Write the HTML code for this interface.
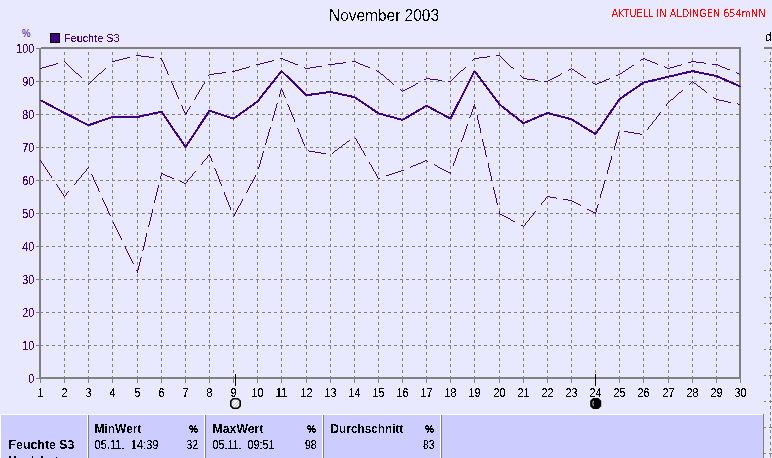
<!DOCTYPE html>
<html><head><meta charset="utf-8"><title>Feuchte S3 - November 2003</title>
<style>html,body{margin:0;padding:0;background:#E8E8FF;width:772px;height:458px;overflow:hidden}text{white-space:pre}</style>
</head><body>
<svg width="772" height="458" viewBox="0 0 772 458" style="display:block"><defs><filter id="al" filterUnits="userSpaceOnUse" x="0" y="0" width="772" height="458"><feComponentTransfer><feFuncA type="discrete" tableValues="0 1"/></feComponentTransfer></filter><filter id="al6" filterUnits="userSpaceOnUse" x="0" y="0" width="772" height="458"><feComponentTransfer><feFuncA type="discrete" tableValues="0 0 0 0 0 0 0 0 0 0 0 1 1 1 1 1 1 1 1 1"/></feComponentTransfer></filter><filter id="al3" filterUnits="userSpaceOnUse" x="0" y="0" width="772" height="458"><feComponentTransfer><feFuncA type="discrete" tableValues="0 0 0 0 0 0 0 1 1 1 1 1 1 1 1 1 1 1 1 1"/></feComponentTransfer></filter><filter id="al4" filterUnits="userSpaceOnUse" x="0" y="0" width="772" height="458"><feComponentTransfer><feFuncA type="discrete" tableValues="0 0 1 1 1"/></feComponentTransfer></filter></defs>
<rect x="0" y="0" width="772" height="458" fill="#E8E8FF"/>
<g stroke="#808080" stroke-width="1" stroke-dasharray="3 3" shape-rendering="crispEdges"><line x1="40" y1="345.5" x2="739" y2="345.5"/><line x1="40" y1="312.5" x2="739" y2="312.5"/><line x1="40" y1="279.5" x2="739" y2="279.5"/><line x1="40" y1="246.5" x2="739" y2="246.5"/><line x1="40" y1="213.5" x2="739" y2="213.5"/><line x1="40" y1="180.5" x2="739" y2="180.5"/><line x1="40" y1="147.5" x2="739" y2="147.5"/><line x1="40" y1="114.5" x2="739" y2="114.5"/><line x1="40" y1="81.5" x2="739" y2="81.5"/><line x1="64.5" y1="52" x2="64.5" y2="377"/><line x1="88.5" y1="52" x2="88.5" y2="377"/><line x1="112.5" y1="52" x2="112.5" y2="377"/><line x1="137.5" y1="52" x2="137.5" y2="377"/><line x1="161.5" y1="52" x2="161.5" y2="377"/><line x1="185.5" y1="52" x2="185.5" y2="377"/><line x1="209.5" y1="52" x2="209.5" y2="377"/><line x1="233.5" y1="52" x2="233.5" y2="377"/><line x1="257.5" y1="52" x2="257.5" y2="377"/><line x1="281.5" y1="52" x2="281.5" y2="377"/><line x1="306.5" y1="52" x2="306.5" y2="377"/><line x1="330.5" y1="52" x2="330.5" y2="377"/><line x1="354.5" y1="52" x2="354.5" y2="377"/><line x1="378.5" y1="52" x2="378.5" y2="377"/><line x1="402.5" y1="52" x2="402.5" y2="377"/><line x1="426.5" y1="52" x2="426.5" y2="377"/><line x1="450.5" y1="52" x2="450.5" y2="377"/><line x1="474.5" y1="52" x2="474.5" y2="377"/><line x1="499.5" y1="52" x2="499.5" y2="377"/><line x1="523.5" y1="52" x2="523.5" y2="377"/><line x1="547.5" y1="52" x2="547.5" y2="377"/><line x1="571.5" y1="52" x2="571.5" y2="377"/><line x1="595.5" y1="52" x2="595.5" y2="377"/><line x1="619.5" y1="52" x2="619.5" y2="377"/><line x1="643.5" y1="52" x2="643.5" y2="377"/><line x1="668.5" y1="52" x2="668.5" y2="377"/><line x1="692.5" y1="52" x2="692.5" y2="377"/><line x1="716.5" y1="52" x2="716.5" y2="377"/></g>
<g fill="#808080" shape-rendering="crispEdges"><rect x="41" y="47" width="700" height="1"/><rect x="39" y="48" width="702" height="1"/><rect x="39" y="377" width="702" height="2"/><rect x="39" y="48" width="2" height="331"/><rect x="739" y="47" width="2" height="332"/><rect x="36" y="378" width="3" height="1"/><rect x="36" y="345" width="3" height="1"/><rect x="36" y="312" width="3" height="1"/><rect x="36" y="279" width="3" height="1"/><rect x="36" y="246" width="3" height="1"/><rect x="36" y="213" width="3" height="1"/><rect x="36" y="180" width="3" height="1"/><rect x="36" y="147" width="3" height="1"/><rect x="36" y="114" width="3" height="1"/><rect x="36" y="81" width="3" height="1"/><rect x="36" y="48" width="3" height="1"/><rect x="40" y="379" width="1" height="4"/><rect x="64" y="379" width="1" height="4"/><rect x="88" y="379" width="1" height="4"/><rect x="112" y="379" width="1" height="4"/><rect x="137" y="379" width="1" height="4"/><rect x="161" y="379" width="1" height="4"/><rect x="185" y="379" width="1" height="4"/><rect x="209" y="379" width="1" height="4"/><rect x="233" y="379" width="1" height="4"/><rect x="257" y="379" width="1" height="4"/><rect x="281" y="379" width="1" height="4"/><rect x="306" y="379" width="1" height="4"/><rect x="330" y="379" width="1" height="4"/><rect x="354" y="379" width="1" height="4"/><rect x="378" y="379" width="1" height="4"/><rect x="402" y="379" width="1" height="4"/><rect x="426" y="379" width="1" height="4"/><rect x="450" y="379" width="1" height="4"/><rect x="474" y="379" width="1" height="4"/><rect x="499" y="379" width="1" height="4"/><rect x="523" y="379" width="1" height="4"/><rect x="547" y="379" width="1" height="4"/><rect x="571" y="379" width="1" height="4"/><rect x="595" y="379" width="1" height="4"/><rect x="619" y="379" width="1" height="4"/><rect x="643" y="379" width="1" height="4"/><rect x="668" y="379" width="1" height="4"/><rect x="692" y="379" width="1" height="4"/><rect x="716" y="379" width="1" height="4"/><rect x="740" y="379" width="1" height="4"/></g>
<g fill="#400080" font-family="Liberation Sans, Arial, sans-serif" font-size="12px" filter="url(#al4)"><text x="34.3" y="382.5" text-anchor="end" textLength="6" lengthAdjust="spacingAndGlyphs">0</text><text x="34.3" y="349.5" text-anchor="end" textLength="12" lengthAdjust="spacingAndGlyphs">10</text><text x="34.3" y="316.5" text-anchor="end" textLength="12" lengthAdjust="spacingAndGlyphs">20</text><text x="34.3" y="283.5" text-anchor="end" textLength="12" lengthAdjust="spacingAndGlyphs">30</text><text x="34.3" y="250.5" text-anchor="end" textLength="12" lengthAdjust="spacingAndGlyphs">40</text><text x="34.3" y="217.5" text-anchor="end" textLength="12" lengthAdjust="spacingAndGlyphs">50</text><text x="34.3" y="184.5" text-anchor="end" textLength="12" lengthAdjust="spacingAndGlyphs">60</text><text x="34.3" y="151.5" text-anchor="end" textLength="12" lengthAdjust="spacingAndGlyphs">70</text><text x="34.3" y="118.5" text-anchor="end" textLength="12" lengthAdjust="spacingAndGlyphs">80</text><text x="34.3" y="85.5" text-anchor="end" textLength="12" lengthAdjust="spacingAndGlyphs">90</text><text x="34.3" y="52.5" text-anchor="end" textLength="18" lengthAdjust="spacingAndGlyphs">100</text></g>
<g fill="#000" font-family="Liberation Sans, Arial, sans-serif" font-size="12px" filter="url(#al4)"><text x="40.5" y="397" text-anchor="middle" textLength="6" lengthAdjust="spacingAndGlyphs">1</text><text x="64.5" y="397" text-anchor="middle" textLength="6" lengthAdjust="spacingAndGlyphs">2</text><text x="88.5" y="397" text-anchor="middle" textLength="6" lengthAdjust="spacingAndGlyphs">3</text><text x="112.5" y="397" text-anchor="middle" textLength="6" lengthAdjust="spacingAndGlyphs">4</text><text x="137.5" y="397" text-anchor="middle" textLength="6" lengthAdjust="spacingAndGlyphs">5</text><text x="161.5" y="397" text-anchor="middle" textLength="6" lengthAdjust="spacingAndGlyphs">6</text><text x="185.5" y="397" text-anchor="middle" textLength="6" lengthAdjust="spacingAndGlyphs">7</text><text x="209.5" y="397" text-anchor="middle" textLength="6" lengthAdjust="spacingAndGlyphs">8</text><text x="233.5" y="397" text-anchor="middle" textLength="6" lengthAdjust="spacingAndGlyphs">9</text><text x="257.5" y="397" text-anchor="middle" textLength="12" lengthAdjust="spacingAndGlyphs">10</text><text x="281.5" y="397" text-anchor="middle" textLength="12" lengthAdjust="spacingAndGlyphs">11</text><text x="306.5" y="397" text-anchor="middle" textLength="12" lengthAdjust="spacingAndGlyphs">12</text><text x="330.5" y="397" text-anchor="middle" textLength="12" lengthAdjust="spacingAndGlyphs">13</text><text x="354.5" y="397" text-anchor="middle" textLength="12" lengthAdjust="spacingAndGlyphs">14</text><text x="378.5" y="397" text-anchor="middle" textLength="12" lengthAdjust="spacingAndGlyphs">15</text><text x="402.5" y="397" text-anchor="middle" textLength="12" lengthAdjust="spacingAndGlyphs">16</text><text x="426.5" y="397" text-anchor="middle" textLength="12" lengthAdjust="spacingAndGlyphs">17</text><text x="450.5" y="397" text-anchor="middle" textLength="12" lengthAdjust="spacingAndGlyphs">18</text><text x="474.5" y="397" text-anchor="middle" textLength="12" lengthAdjust="spacingAndGlyphs">19</text><text x="499.5" y="397" text-anchor="middle" textLength="12" lengthAdjust="spacingAndGlyphs">20</text><text x="523.5" y="397" text-anchor="middle" textLength="12" lengthAdjust="spacingAndGlyphs">21</text><text x="547.5" y="397" text-anchor="middle" textLength="12" lengthAdjust="spacingAndGlyphs">22</text><text x="571.5" y="397" text-anchor="middle" textLength="12" lengthAdjust="spacingAndGlyphs">23</text><text x="595.5" y="397" text-anchor="middle" textLength="12" lengthAdjust="spacingAndGlyphs">24</text><text x="619.5" y="397" text-anchor="middle" textLength="12" lengthAdjust="spacingAndGlyphs">25</text><text x="643.5" y="397" text-anchor="middle" textLength="12" lengthAdjust="spacingAndGlyphs">26</text><text x="668.5" y="397" text-anchor="middle" textLength="12" lengthAdjust="spacingAndGlyphs">27</text><text x="692.5" y="397" text-anchor="middle" textLength="12" lengthAdjust="spacingAndGlyphs">28</text><text x="716.5" y="397" text-anchor="middle" textLength="12" lengthAdjust="spacingAndGlyphs">29</text><text x="740.5" y="397" text-anchor="middle" textLength="12" lengthAdjust="spacingAndGlyphs">30</text></g>
<text x="22" y="36.5" fill="#400080" font-family="Liberation Sans, Arial, sans-serif" font-size="11px" textLength="8.5" lengthAdjust="spacingAndGlyphs">%</text>
<rect x="50.5" y="33.5" width="9" height="9" fill="#400080" stroke="#000" stroke-width="1" shape-rendering="crispEdges"/>
<text x="64" y="41.5" fill="#400080" font-family="Liberation Sans, Arial, sans-serif" font-size="11px" textLength="55.5" filter="url(#al4)" lengthAdjust="spacingAndGlyphs">Feuchte S3</text>
<text x="329" y="21" fill="#000" font-family="Liberation Sans, Arial, sans-serif" font-size="16px" textLength="110" filter="url(#al6)" lengthAdjust="spacingAndGlyphs">November 2003</text>
<text x="611.5" y="17" fill="#FF0000" font-family="DejaVu Sans Condensed, DejaVu Sans, sans-serif" font-stretch="condensed" font-size="11px" textLength="154" filter="url(#al)" lengthAdjust="spacingAndGlyphs">AKTUELL IN ALDINGEN 654mNN</text>
<path fill="none" stroke="#400080" stroke-width="1" shape-rendering="crispEdges" d="M136 55.5h5M496 55.5h4M141 56.5h8M487 56.5h3M500 56.5h1M127 57.5h3M149 57.5h5M479 57.5h8M501 57.5h1M123 58.5h4M160 58.5h2M280 58.5h3M474 58.5h5M502 58.5h1M643 58.5h2M119 59.5h4M161 59.5h1M283 59.5h2M473 59.5h1M503 59.5h1M641 59.5h2M645 59.5h2M115 60.5h4M162 60.5h1M272 60.5h2M285 60.5h3M472 60.5h1M504 60.5h1M640 60.5h1M647 60.5h3M64 61.5h1M112 61.5h3M162 61.5h1M268 61.5h4M288 61.5h2M352 61.5h4M505 61.5h1M650 61.5h2M691 61.5h5M65 62.5h1M163 62.5h1M264 62.5h4M290 62.5h3M343 62.5h3M356 62.5h2M506 62.5h1M652 62.5h3M688 62.5h3M696 62.5h8M56 63.5h2M66 63.5h1M163 63.5h1M260 63.5h4M293 63.5h2M335 63.5h8M358 63.5h2M507 63.5h1M655 63.5h2M704 63.5h2M53 64.5h3M67 64.5h1M164 64.5h1M256 64.5h4M295 64.5h3M328 64.5h7M360 64.5h3M508 64.5h1M657 64.5h1M681 64.5h1M712 64.5h6M49 65.5h4M68 65.5h1M164 65.5h1M363 65.5h2M509 65.5h1M632 65.5h2M677 65.5h4M718 65.5h2M46 66.5h3M69 66.5h1M164 66.5h1M249 66.5h1M316 66.5h6M365 66.5h3M510 66.5h1M631 66.5h1M664 66.5h1M674 66.5h3M720 66.5h2M42 67.5h4M70 67.5h1M165 67.5h1M246 67.5h3M304 67.5h1M310 67.5h6M368 67.5h2M465 67.5h1M511 67.5h2M629 67.5h2M665 67.5h2M670 67.5h4M722 67.5h3M40 68.5h2M71 68.5h1M105 68.5h1M165 68.5h1M242 68.5h4M305 68.5h5M464 68.5h1M513 68.5h1M571 68.5h1M628 68.5h1M667 68.5h3M725 68.5h2M72 69.5h1M104 69.5h1M166 69.5h1M239 69.5h3M463 69.5h1M569 69.5h2M572 69.5h2M626 69.5h2M727 69.5h3M73 70.5h1M103 70.5h1M166 70.5h1M235 70.5h4M376 70.5h1M461 70.5h2M568 70.5h1M574 70.5h1M625 70.5h1M74 71.5h1M102 71.5h1M167 71.5h1M232 71.5h3M377 71.5h2M460 71.5h1M575 71.5h2M623 71.5h2M75 72.5h1M101 72.5h1M167 72.5h1M222 72.5h4M379 72.5h1M459 72.5h1M577 72.5h1M622 72.5h1M736 72.5h1M76 73.5h2M99 73.5h2M167 73.5h1M214 73.5h8M380 73.5h1M458 73.5h1M561 73.5h1M578 73.5h2M620 73.5h2M737 73.5h2M78 74.5h1M98 74.5h1M168 74.5h1M209 74.5h5M381 74.5h2M457 74.5h1M560 74.5h1M580 74.5h1M618 74.5h2M739 74.5h1M79 75.5h1M97 75.5h1M208 75.5h1M383 75.5h1M456 75.5h1M520 75.5h1M558 75.5h2M581 75.5h2M616 75.5h2M80 76.5h1M96 76.5h1M384 76.5h1M455 76.5h1M521 76.5h1M556 76.5h2M583 76.5h1M81 77.5h1M95 77.5h1M385 77.5h1M454 77.5h1M522 77.5h1M554 77.5h2M584 77.5h2M94 78.5h1M386 78.5h1M426 78.5h4M453 78.5h1M523 78.5h4M552 78.5h2M609 78.5h1M93 79.5h1M387 79.5h2M424 79.5h2M430 79.5h8M452 79.5h1M527 79.5h8M550 79.5h2M606 79.5h3M92 80.5h1M389 80.5h1M438 80.5h4M451 80.5h1M535 80.5h3M548 80.5h2M604 80.5h2M91 81.5h1M171 81.5h1M390 81.5h1M448 81.5h3M544 81.5h4M602 81.5h2M90 82.5h1M171 82.5h1M204 82.5h1M391 82.5h1M592 82.5h1M599 82.5h3M89 83.5h1M172 83.5h1M204 83.5h1M392 83.5h1M416 83.5h2M593 83.5h2M597 83.5h2M88 84.5h1M172 84.5h1M203 84.5h1M393 84.5h1M415 84.5h1M595 84.5h2M173 85.5h1M202 85.5h1M413 85.5h2M173 86.5h1M202 86.5h1M411 86.5h2M173 87.5h1M201 87.5h1M409 87.5h2M174 88.5h1M201 88.5h1M407 88.5h2M174 89.5h1M200 89.5h1M400 89.5h1M405 89.5h2M175 90.5h1M199 90.5h1M401 90.5h1M403 90.5h2M175 91.5h1M199 91.5h1M402 91.5h1M176 92.5h1M198 92.5h1M176 93.5h1M198 93.5h1M176 94.5h1M197 94.5h1M177 95.5h1M196 95.5h1M177 96.5h1M196 96.5h1M178 97.5h1M195 97.5h1M178 98.5h1M195 98.5h1M194 99.5h1M181 105.5h1M182 106.5h1M190 106.5h1M182 107.5h1M189 107.5h1M182 108.5h1M189 108.5h1M183 109.5h1M188 109.5h1M183 110.5h1M187 110.5h1M184 111.5h1M187 111.5h1M184 112.5h1M186 112.5h1M185 113.5h2M185 114.5h1"/>
<path fill="none" stroke="#400080" stroke-width="1" shape-rendering="crispEdges" d="M692 81.5h1M691 82.5h1M693 82.5h1M690 83.5h1M694 83.5h2M689 84.5h1M696 84.5h1M697 85.5h1M698 86.5h2M700 87.5h1M281 88.5h1M701 88.5h1M281 89.5h1M702 89.5h2M280 90.5h1M282 90.5h1M682 90.5h1M704 90.5h1M280 91.5h1M282 91.5h1M681 91.5h1M705 91.5h1M280 92.5h1M283 92.5h1M679 92.5h2M706 92.5h1M280 93.5h1M283 93.5h1M678 93.5h1M279 94.5h1M283 94.5h1M677 94.5h1M279 95.5h1M284 95.5h1M676 95.5h1M279 96.5h1M284 96.5h1M675 96.5h1M285 97.5h1M674 97.5h1M713 97.5h1M673 98.5h1M714 98.5h2M671 99.5h2M716 99.5h3M670 100.5h1M719 100.5h5M669 101.5h1M724 101.5h4M668 102.5h1M728 102.5h3M277 103.5h1M667 103.5h1M737 103.5h1M276 104.5h1M287 104.5h1M474 104.5h1M666 104.5h1M738 104.5h2M276 105.5h1M288 105.5h1M474 105.5h1M666 105.5h1M276 106.5h1M288 106.5h1M473 106.5h2M276 107.5h1M289 107.5h1M473 107.5h1M475 107.5h1M275 108.5h1M289 108.5h1M473 108.5h1M475 108.5h1M275 109.5h1M289 109.5h1M472 109.5h1M275 110.5h1M290 110.5h1M472 110.5h1M274 111.5h1M290 111.5h1M472 111.5h1M274 112.5h1M291 112.5h1M471 112.5h1M660 112.5h1M274 113.5h1M291 113.5h1M471 113.5h1M659 113.5h1M274 114.5h1M291 114.5h1M471 114.5h1M659 114.5h1M273 115.5h1M292 115.5h1M470 115.5h1M477 115.5h1M658 115.5h1M273 116.5h1M292 116.5h1M470 116.5h1M477 116.5h1M657 116.5h1M273 117.5h1M293 117.5h1M469 117.5h1M477 117.5h1M656 117.5h1M272 118.5h1M293 118.5h1M477 118.5h1M656 118.5h1M272 119.5h1M294 119.5h1M477 119.5h1M655 119.5h1M272 120.5h1M294 120.5h1M478 120.5h1M654 120.5h1M294 121.5h1M478 121.5h1M653 121.5h1M478 122.5h1M652 122.5h1M478 123.5h1M652 123.5h1M467 124.5h1M479 124.5h1M651 124.5h1M467 125.5h1M479 125.5h1M650 125.5h1M466 126.5h1M479 126.5h1M649 126.5h1M270 127.5h1M466 127.5h1M479 127.5h1M648 127.5h1M270 128.5h1M297 128.5h1M466 128.5h1M480 128.5h1M648 128.5h1M269 129.5h1M298 129.5h1M465 129.5h1M480 129.5h1M647 129.5h1M269 130.5h1M298 130.5h1M465 130.5h1M480 130.5h1M269 131.5h1M298 131.5h1M465 131.5h1M480 131.5h1M624 131.5h4M268 132.5h1M299 132.5h1M464 132.5h1M480 132.5h1M618 132.5h1M628 132.5h6M268 133.5h1M299 133.5h1M464 133.5h1M618 133.5h1M634 133.5h6M268 134.5h1M300 134.5h1M464 134.5h1M618 134.5h1M640 134.5h2M268 135.5h1M300 135.5h1M463 135.5h1M618 135.5h1M267 136.5h1M300 136.5h1M463 136.5h1M617 136.5h1M267 137.5h1M301 137.5h1M463 137.5h1M617 137.5h1M267 138.5h1M301 138.5h1M355 138.5h1M462 138.5h1M617 138.5h1M266 139.5h1M302 139.5h1M356 139.5h1M462 139.5h1M482 139.5h1M616 139.5h1M266 140.5h1M302 140.5h1M349 140.5h1M356 140.5h1M461 140.5h1M482 140.5h1M616 140.5h1M266 141.5h1M302 141.5h1M347 141.5h2M357 141.5h1M461 141.5h1M482 141.5h1M616 141.5h1M266 142.5h1M303 142.5h1M346 142.5h1M357 142.5h1M483 142.5h1M616 142.5h1M265 143.5h1M303 143.5h1M345 143.5h1M358 143.5h1M483 143.5h1M615 143.5h1M265 144.5h1M304 144.5h1M343 144.5h2M359 144.5h1M483 144.5h1M615 144.5h1M304 145.5h1M342 145.5h1M359 145.5h1M483 145.5h1M615 145.5h1M341 146.5h1M360 146.5h1M484 146.5h1M614 146.5h1M339 147.5h2M360 147.5h1M484 147.5h1M614 147.5h1M338 148.5h1M361 148.5h1M459 148.5h1M484 148.5h1M614 148.5h1M337 149.5h1M361 149.5h1M458 149.5h1M484 149.5h1M614 149.5h1M308 150.5h1M335 150.5h2M362 150.5h1M458 150.5h1M485 150.5h1M263 151.5h1M309 151.5h6M334 151.5h1M363 151.5h1M458 151.5h1M485 151.5h1M263 152.5h1M315 152.5h6M333 152.5h1M363 152.5h1M457 152.5h1M485 152.5h1M262 153.5h1M321 153.5h5M332 153.5h1M364 153.5h1M457 153.5h1M485 153.5h1M209 154.5h1M262 154.5h1M364 154.5h1M457 154.5h1M485 154.5h1M208 155.5h2M262 155.5h1M365 155.5h1M456 155.5h1M486 155.5h1M207 156.5h1M210 156.5h1M262 156.5h1M456 156.5h1M486 156.5h1M611 156.5h1M207 157.5h1M210 157.5h1M261 157.5h1M456 157.5h1M611 157.5h1M206 158.5h1M211 158.5h1M261 158.5h1M455 158.5h1M611 158.5h1M205 159.5h1M211 159.5h1M261 159.5h1M455 159.5h1M611 159.5h1M40 160.5h1M204 160.5h1M211 160.5h1M260 160.5h1M425 160.5h2M455 160.5h1M610 160.5h1M41 161.5h1M203 161.5h1M212 161.5h1M260 161.5h1M423 161.5h2M427 161.5h1M454 161.5h1M610 161.5h1M41 162.5h1M202 162.5h1M260 162.5h1M369 162.5h1M421 162.5h2M454 162.5h1M610 162.5h1M42 163.5h1M202 163.5h1M260 163.5h1M369 163.5h1M418 163.5h3M453 163.5h1M488 163.5h1M609 163.5h1M43 164.5h1M201 164.5h1M259 164.5h1M370 164.5h1M416 164.5h2M434 164.5h1M453 164.5h1M488 164.5h1M609 164.5h1M43 165.5h1M259 165.5h1M371 165.5h1M413 165.5h3M435 165.5h2M453 165.5h1M488 165.5h1M609 165.5h1M44 166.5h1M259 166.5h1M371 166.5h1M411 166.5h2M437 166.5h1M488 166.5h1M609 166.5h1M45 167.5h1M88 167.5h1M258 167.5h1M372 167.5h1M410 167.5h1M438 167.5h2M488 167.5h1M608 167.5h1M45 168.5h1M87 168.5h1M214 168.5h1M258 168.5h1M372 168.5h1M440 168.5h2M489 168.5h1M608 168.5h1M46 169.5h1M86 169.5h1M215 169.5h1M373 169.5h1M442 169.5h2M489 169.5h1M608 169.5h1M47 170.5h1M86 170.5h1M215 170.5h1M373 170.5h1M401 170.5h3M444 170.5h2M489 170.5h1M607 170.5h1M47 171.5h1M85 171.5h1M195 171.5h1M216 171.5h1M374 171.5h1M398 171.5h3M446 171.5h2M489 171.5h1M607 171.5h1M48 172.5h1M84 172.5h1M194 172.5h1M216 172.5h1M375 172.5h1M395 172.5h3M448 172.5h3M490 172.5h1M607 172.5h1M49 173.5h1M83 173.5h1M161 173.5h2M193 173.5h1M216 173.5h1M375 173.5h1M392 173.5h3M450 173.5h1M490 173.5h1M607 173.5h1M49 174.5h1M82 174.5h1M91 174.5h1M161 174.5h1M163 174.5h2M192 174.5h1M217 174.5h1M376 174.5h1M389 174.5h3M490 174.5h1M50 175.5h1M81 175.5h1M92 175.5h1M161 175.5h1M165 175.5h2M192 175.5h1M217 175.5h1M255 175.5h1M376 175.5h1M386 175.5h3M490 175.5h1M51 176.5h1M81 176.5h1M92 176.5h1M160 176.5h1M167 176.5h3M191 176.5h1M218 176.5h1M255 176.5h1M377 176.5h1M491 176.5h1M51 177.5h1M80 177.5h1M93 177.5h1M160 177.5h1M170 177.5h2M190 177.5h1M218 177.5h1M254 177.5h1M377 177.5h1M491 177.5h1M79 178.5h1M93 178.5h1M160 178.5h1M172 178.5h2M189 178.5h1M218 178.5h1M254 178.5h1M378 178.5h2M491 178.5h1M78 179.5h1M93 179.5h1M188 179.5h1M219 179.5h1M253 179.5h1M491 179.5h1M77 180.5h1M94 180.5h1M187 180.5h1M219 180.5h1M253 180.5h1M491 180.5h1M605 180.5h1M76 181.5h1M94 181.5h1M180 181.5h2M187 181.5h1M219 181.5h1M252 181.5h1M604 181.5h1M76 182.5h1M95 182.5h1M182 182.5h2M186 182.5h1M220 182.5h1M252 182.5h1M604 182.5h1M75 183.5h1M95 183.5h1M184 183.5h2M220 183.5h1M251 183.5h1M604 183.5h1M56 184.5h1M74 184.5h1M96 184.5h1M221 184.5h1M250 184.5h1M603 184.5h1M57 185.5h1M96 185.5h1M158 185.5h1M221 185.5h1M250 185.5h1M603 185.5h1M57 186.5h1M97 186.5h1M158 186.5h1M249 186.5h1M603 186.5h1M58 187.5h1M97 187.5h1M158 187.5h1M249 187.5h1M493 187.5h1M603 187.5h1M59 188.5h1M98 188.5h1M157 188.5h1M248 188.5h1M493 188.5h1M602 188.5h1M59 189.5h1M98 189.5h1M157 189.5h1M248 189.5h1M493 189.5h1M602 189.5h1M60 190.5h1M98 190.5h1M157 190.5h1M247 190.5h1M494 190.5h1M602 190.5h1M61 191.5h1M68 191.5h1M99 191.5h1M157 191.5h1M247 191.5h1M494 191.5h1M601 191.5h1M61 192.5h1M67 192.5h1M156 192.5h1M224 192.5h1M246 192.5h1M494 192.5h1M601 192.5h1M62 193.5h1M66 193.5h1M156 193.5h1M224 193.5h1M494 193.5h1M601 193.5h1M63 194.5h1M66 194.5h1M156 194.5h1M224 194.5h1M495 194.5h1M600 194.5h1M63 195.5h1M65 195.5h1M156 195.5h1M225 195.5h1M495 195.5h1M600 195.5h1M64 196.5h1M155 196.5h1M225 196.5h1M495 196.5h1M547 196.5h3M600 196.5h1M155 197.5h1M226 197.5h1M495 197.5h1M546 197.5h1M550 197.5h6M600 197.5h1M102 198.5h1M155 198.5h1M226 198.5h1M496 198.5h1M545 198.5h1M556 198.5h1M102 199.5h1M155 199.5h1M226 199.5h1M242 199.5h1M496 199.5h1M545 199.5h1M563 199.5h5M103 200.5h1M154 200.5h1M227 200.5h1M242 200.5h1M496 200.5h1M544 200.5h1M568 200.5h4M103 201.5h1M154 201.5h1M227 201.5h1M241 201.5h1M496 201.5h1M543 201.5h1M572 201.5h2M104 202.5h1M154 202.5h1M228 202.5h1M241 202.5h1M496 202.5h1M542 202.5h1M574 202.5h2M104 203.5h1M228 203.5h1M240 203.5h1M497 203.5h1M541 203.5h1M576 203.5h2M105 204.5h1M228 204.5h1M240 204.5h1M497 204.5h1M541 204.5h1M578 204.5h2M598 204.5h1M105 205.5h1M229 205.5h1M239 205.5h1M580 205.5h1M597 205.5h1M106 206.5h1M229 206.5h1M238 206.5h1M597 206.5h1M106 207.5h1M230 207.5h1M238 207.5h1M597 207.5h1M107 208.5h1M230 208.5h1M237 208.5h1M596 208.5h1M107 209.5h1M152 209.5h1M230 209.5h1M237 209.5h1M587 209.5h2M596 209.5h1M107 210.5h1M152 210.5h1M236 210.5h1M589 210.5h2M596 210.5h1M108 211.5h1M152 211.5h1M236 211.5h1M499 211.5h1M535 211.5h1M591 211.5h2M596 211.5h1M108 212.5h1M152 212.5h1M235 212.5h1M499 212.5h1M534 212.5h1M593 212.5h3M109 213.5h1M151 213.5h1M235 213.5h1M499 213.5h1M533 213.5h1M595 213.5h1M109 214.5h1M151 214.5h1M234 214.5h1M500 214.5h2M533 214.5h1M110 215.5h1M151 215.5h1M234 215.5h1M502 215.5h2M532 215.5h1M151 216.5h1M233 216.5h1M504 216.5h2M531 216.5h1M150 217.5h1M506 217.5h2M530 217.5h1M150 218.5h1M508 218.5h2M529 218.5h1M150 219.5h1M510 219.5h1M529 219.5h1M150 220.5h1M511 220.5h2M528 220.5h1M149 221.5h1M513 221.5h2M527 221.5h1M113 222.5h1M149 222.5h1M526 222.5h1M113 223.5h1M149 223.5h1M525 223.5h1M114 224.5h1M149 224.5h1M525 224.5h1M114 225.5h1M148 225.5h1M521 225.5h2M524 225.5h1M115 226.5h1M148 226.5h1M523 226.5h1M115 227.5h1M116 228.5h1M116 229.5h1M117 230.5h1M117 231.5h1M118 232.5h1M118 233.5h1M146 233.5h1M119 234.5h1M146 234.5h1M119 235.5h1M146 235.5h1M120 236.5h1M146 236.5h1M120 237.5h1M145 237.5h1M121 238.5h1M145 238.5h1M121 239.5h1M145 239.5h1M145 240.5h1M145 241.5h1M144 242.5h1M144 243.5h1M144 244.5h1M144 245.5h1M125 246.5h1M143 246.5h1M125 247.5h1M143 247.5h1M125 248.5h1M143 248.5h1M126 249.5h1M143 249.5h1M126 250.5h1M142 250.5h1M127 251.5h1M127 252.5h1M128 253.5h1M128 254.5h1M129 255.5h1M129 256.5h1M130 257.5h1M141 257.5h1M130 258.5h1M140 258.5h1M131 259.5h1M140 259.5h1M131 260.5h1M140 260.5h1M132 261.5h1M140 261.5h1M132 262.5h1M139 262.5h1M133 263.5h1M139 263.5h1M139 264.5h1M139 265.5h1M138 266.5h1M138 267.5h1M138 268.5h1M138 269.5h1M136 270.5h2M137 271.5h1M137 272.5h1"/>
<polyline fill="none" stroke="#400080" stroke-width="2" stroke-linejoin="bevel" shape-rendering="crispEdges" points="40.50,100.14 64.50,113.01 88.50,125.22 112.50,116.97 137.50,116.97 161.50,111.69 185.50,147.00 209.50,110.70 233.50,118.62 257.50,101.46 281.50,71.10 306.50,95.19 330.50,91.89 354.50,97.17 378.50,113.34 402.50,119.94 426.50,105.75 450.50,118.62 474.50,71.10 499.50,104.43 523.50,123.24 547.50,113.01 571.50,119.28 595.50,134.13 619.50,99.15 643.50,82.65 668.50,76.71 692.50,71.10 716.50,76.05 740.50,86.61"/>
<rect x="235" y="374" width="1" height="12" fill="#000"/>
<rect x="595" y="374" width="1" height="12" fill="#000"/>
<path d="M233.2 398.8 H237.8 L240.2 401.2 V405.8 L237.8 408.2 H233.2 L230.8 405.8 V401.2 Z" fill="#F0F0F0" stroke="#000" stroke-width="1.6"/>
<path d="M233 406 L238.5 400.5 M235 407 L239 403 M232 403 L234 401" stroke="#C4C4C4" stroke-width="0.9" fill="none"/>
<path d="M593.4 398.8 H598 L600.4 401.2 V405.8 L598 408.2 H593.4 L591 405.8 V401.2 Z" fill="#000" stroke="#000" stroke-width="1.6"/>
<path d="M593.4 400.8 Q592.3 403.4 593.4 406" stroke="#E0E0E0" stroke-width="0.9" fill="none"/>
<rect x="764" y="47" width="8" height="2" fill="#808080"/>
<line x1="770.5" y1="52" x2="770.5" y2="458" stroke="#808080" stroke-dasharray="3 3" shape-rendering="crispEdges"/>
<g fill="#808080" shape-rendering="crispEdges"><rect x="764" y="61" width="2" height="1"/><rect x="769" y="61" width="3" height="1"/><rect x="764" y="88" width="2" height="1"/><rect x="769" y="88" width="3" height="1"/><rect x="764" y="114" width="2" height="1"/><rect x="769" y="114" width="3" height="1"/><rect x="764" y="140" width="2" height="1"/><rect x="769" y="140" width="3" height="1"/><rect x="764" y="166" width="2" height="1"/><rect x="769" y="166" width="3" height="1"/><rect x="764" y="192" width="2" height="1"/><rect x="769" y="192" width="3" height="1"/><rect x="764" y="218" width="2" height="1"/><rect x="769" y="218" width="3" height="1"/><rect x="764" y="244" width="2" height="1"/><rect x="769" y="244" width="3" height="1"/><rect x="764" y="270" width="2" height="1"/><rect x="769" y="270" width="3" height="1"/><rect x="764" y="297" width="2" height="1"/><rect x="769" y="297" width="3" height="1"/><rect x="764" y="323" width="2" height="1"/><rect x="769" y="323" width="3" height="1"/><rect x="764" y="349" width="2" height="1"/><rect x="769" y="349" width="3" height="1"/><rect x="764" y="375" width="2" height="1"/><rect x="769" y="375" width="3" height="1"/><rect x="764" y="401" width="2" height="1"/><rect x="769" y="401" width="3" height="1"/><rect x="764" y="427" width="2" height="1"/><rect x="769" y="427" width="3" height="1"/><rect x="764" y="453" width="2" height="1"/><rect x="769" y="453" width="3" height="1"/></g>
<text x="765" y="41" fill="#000" font-family="Liberation Sans, Arial, sans-serif" font-size="12px" filter="url(#al)">d</text>
<rect x="0" y="414" width="764" height="44" fill="#FFFFFF"/>
<rect x="1" y="415" width="762" height="43" fill="#CCCCFF"/>
<rect x="87" y="415" width="1" height="43" fill="#FFFFFF"/><rect x="88" y="415" width="1" height="43" fill="#808080"/>
<rect x="204" y="415" width="1" height="43" fill="#FFFFFF"/><rect x="205" y="415" width="1" height="43" fill="#808080"/>
<rect x="322" y="415" width="1" height="43" fill="#FFFFFF"/><rect x="323" y="415" width="1" height="43" fill="#808080"/>
<rect x="440" y="415" width="1" height="43" fill="#FFFFFF"/><rect x="441" y="415" width="1" height="43" fill="#808080"/>
<rect x="763" y="414" width="1" height="44" fill="#808080"/>
<g fill="#000" font-family="Liberation Sans, Arial, sans-serif" font-size="12px" filter="url(#al)"><text x="8.5" y="449" font-weight="bold" textLength="66" lengthAdjust="spacingAndGlyphs">Feuchte S3</text><text x="8.5" y="465" font-weight="bold" textLength="50" lengthAdjust="spacingAndGlyphs">Houlebnt</text><text x="94.5" y="433" font-weight="bold" textLength="47" lengthAdjust="spacingAndGlyphs">MinWert</text><text x="198" y="432.5" font-weight="bold" text-anchor="end" textLength="9" lengthAdjust="spacingAndGlyphs" font-size="11px" stroke="#000" stroke-width="0.25">%</text><text x="212.5" y="433" font-weight="bold" textLength="51" lengthAdjust="spacingAndGlyphs">MaxWert</text><text x="316" y="432.5" font-weight="bold" text-anchor="end" textLength="9" lengthAdjust="spacingAndGlyphs" font-size="11px" stroke="#000" stroke-width="0.25">%</text><text x="330.5" y="433" font-weight="bold" textLength="73" lengthAdjust="spacingAndGlyphs">Durchschnitt</text><text x="434" y="432.5" font-weight="bold" text-anchor="end" textLength="9" lengthAdjust="spacingAndGlyphs" font-size="11px" stroke="#000" stroke-width="0.25">%</text></g>
<g fill="#000" font-family="Liberation Sans, Arial, sans-serif" font-size="12px" filter="url(#al4)"><text x="94.5" y="449" textLength="64" lengthAdjust="spacingAndGlyphs">05.11.  14:39</text><text x="198" y="449" text-anchor="end" textLength="11.5" lengthAdjust="spacingAndGlyphs">32</text><text x="212.5" y="449" textLength="62" lengthAdjust="spacingAndGlyphs">05.11.  09:51</text><text x="316.5" y="449" text-anchor="end" textLength="11.5" lengthAdjust="spacingAndGlyphs">98</text><text x="434.5" y="449" text-anchor="end" textLength="11.5" lengthAdjust="spacingAndGlyphs">83</text></g></svg>
</body></html>
